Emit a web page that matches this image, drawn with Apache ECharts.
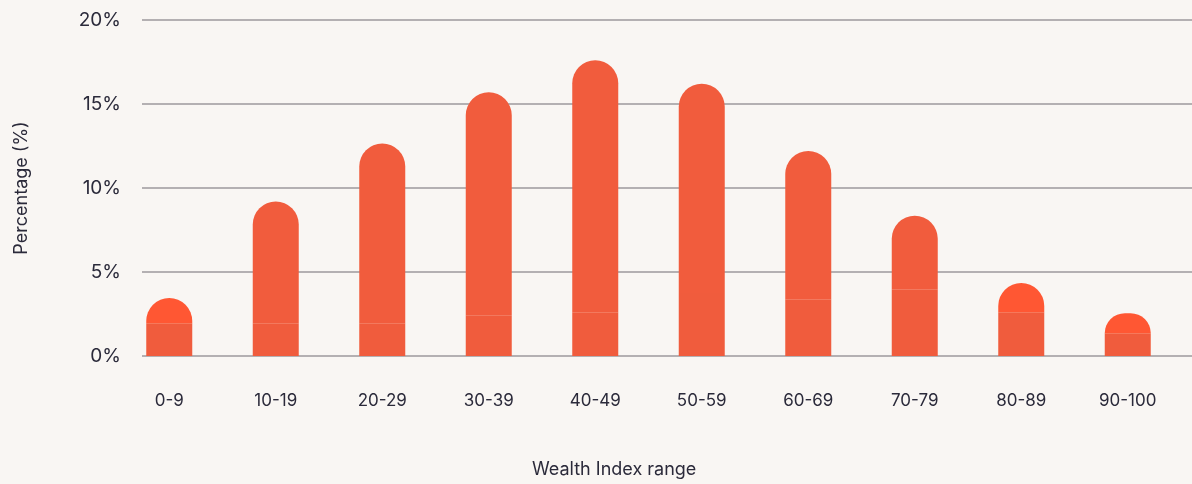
<!DOCTYPE html>
<html>
<head>
<meta charset="utf-8">
<script src="https://cdn.jsdelivr.net/npm/echarts@6/dist/echarts.min.js"></script>
<style>
html,body{margin:0;padding:0;background:#f9f6f3;}
#c{width:1192px;height:484px;}
</style>
</head>
<body>
<div id="c"></div>
<script>
// ---- data ----
const categories = ['0-9','10-19','20-29','30-39','40-49','50-59','60-69','70-79','80-89','90-100'];
const baseValues = [1.95, 1.95, 1.95, 2.4, 2.6, 3.75, 3.35, 3.95, 2.6, 1.35];
const totalValues = [3.45, 9.2, 12.65, 15.7, 17.6, 16.2, 12.2, 8.35, 4.35, 2.55];
const yTicks = [0, 5, 10, 15, 20];
const xAxisTitle = 'Wealth Index range';
const yAxisTitle = 'Percentage (%)';

// ---- styles ----
const textColor = '#2b2a3a';
const gridColor = '#9c989d';
const barColor = '#f05c3d';
const topColor = '#f15c3d';
const brightTopColor = '#ff5733';
const brightTops = ['0-9', '80-89', '90-100'];
const font = 'Inter, "Noto Sans", sans-serif';

const topValues = totalValues.map((t, i) => +(t - baseValues[i]).toFixed(2));

const chart = echarts.init(document.getElementById('c'), null, {renderer: 'canvas'});
chart.setOption({
  backgroundColor: '#f9f6f3',
  animation: false,
  grid: [
    {left: 142, right: 0, top: 20, bottom: 128},
    {left: 116, right: 11, top: 20, bottom: 128}
  ],
  xAxis: [
    {type: 'category', gridIndex: 0, data: categories, show: false},
    {
      type: 'category', gridIndex: 1, data: categories,
      axisLine: {show: false}, axisTick: {show: false},
      axisLabel: {color: textColor, fontSize: 17, fontFamily: font, margin: 36}
    }
  ],
  yAxis: [
    {
      type: 'value', gridIndex: 0, min: yTicks[0], max: yTicks[yTicks.length - 1], interval: 5,
      name: yAxisTitle, nameLocation: 'middle', nameGap: 111, nameRotate: 90,
      nameTextStyle: {color: textColor, fontSize: 18, fontFamily: font},
      axisLine: {show: false}, axisTick: {show: false},
      axisLabel: {color: textColor, fontSize: 19, fontFamily: font, margin: 21, formatter: '{value}%'},
      splitLine: {lineStyle: {color: gridColor, width: 1.6}}
    },
    {type: 'value', gridIndex: 1, min: yTicks[0], max: yTicks[yTicks.length - 1], show: false}
  ],
  graphic: [{
    type: 'text', left: 532, top: 461,
    style: {text: xAxisTitle, fill: textColor, font: '18px ' + font}
  }],
  series: [
    {
      type: 'bar', xAxisIndex: 1, yAxisIndex: 1, stack: 'a', barWidth: 46,
      data: baseValues, itemStyle: {color: barColor}
    },
    {
      type: 'bar', xAxisIndex: 1, yAxisIndex: 1, stack: 'a', barWidth: 46,
      data: topValues.map((v, i) => ({
        value: v,
        itemStyle: {color: brightTops.includes(categories[i]) ? brightTopColor : topColor}
      })),
      itemStyle: {borderRadius: [23, 23, 0, 0]}
    }
  ]
});
</script>
</body>
</html>
